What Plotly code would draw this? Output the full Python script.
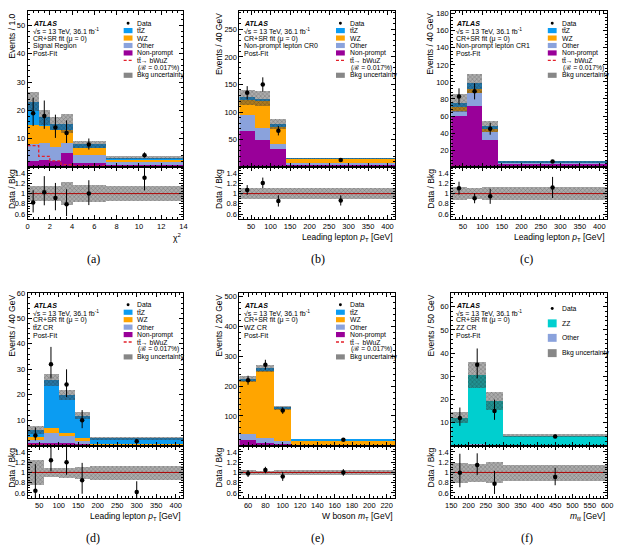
import plotly.graph_objects as go

W, H = 620, 549

# ---------------- data ----------------
# (a) Signal region, chi^2
a_edges = [0, 1, 2, 3, 4, 7, 14]
a_nonprompt = [2.2, 2.5, 2.1, 5.0, 1.5, 0.6]
a_other = [5.7, 6.0, 5.0, 3.3, 2.7, 1.0]
a_wz = [6.9, 5.8, 5.9, 4.7, 2.3, 0.8]
a_ttz = [8.2, 3.2, 2.3, 2.2, 1.5, 0.8]
a_unc = [3.3, 2.6, 2.2, 3.3, 1.3, 0.5]
a_signal = [7.6, 3.8, 2.2, 0.9, 0.4, 0.15]
a_data = [19, 18, 14, 12, 8, 4.2]
a_err_up = [5.5, 5.5, 4.5, 4.5, 2.1, 1.0]
a_err_dn = [4.5, 4.5, 3.7, 3.5, 1.8, 0.8]

# (b) Non-prompt lepton CR0
b_edges = [20, 60, 100, 140, 420]
b_nonprompt = [66, 48, 32, 5]
b_other = [28, 22, 9, 2]
b_wz = [28, 50, 33, 7.5]
b_ttz = [4, 4, 3, 0.5]
b_unc = [14, 13, 9, 1.5]
b_signal = [0.4, 0.3, 0.2, 0.05]
b_data = [135, 150, 66, 13]
b_err_up = [12, 13, 8.5, 1.5]
b_err_dn = [12, 13, 8.5, 1.5]

# (c) Non-prompt lepton CR1
c_edges = [20, 60, 100, 140, 420]
c_nonprompt = [60, 72, 31, 3.5]
c_other = [6, 15, 10, 1.2]
c_wz = [4, 4, 3, 0.5]
c_ttz = [5, 7, 3.5, 0.6]
c_unc = [10, 11, 6, 0.7]
c_signal = [0.8, 0.6, 0.3, 0.1]
c_data = [83, 89, 45, 6.5]
c_err_up = [9.5, 9.5, 7, 1.2]
c_err_dn = [9.5, 9.5, 7, 1.2]

# (d) ttZ CR
d_edges = [20, 60, 100, 140, 180, 420]
d_nonprompt = [1.0, 1.1, 1.0, 0.6, 0.2]
d_other = [1.5, 3.9, 3.0, 1.5, 0.4]
d_wz = [1.0, 1.9, 0.9, 0.9, 0.3]
d_ttz = [2.7, 19.0, 15.1, 8.8, 2.0]
d_unc = [1.55, 2.4, 2.0, 1.4, 0.4]
d_signal = [0.3, 0.2, 0.15, 0.1, 0.05]
d_data = [4, 32, 24, 10, 1.8]
d_err_up = [3.2, 6.8, 6.0, 4.0, 0.6]
d_err_dn = [1.9, 5.6, 4.9, 3.1, 0.5]

# (e) WZ CR
e_edges = [50, 70, 90, 110, 230]
e_nonprompt = [19, 11, 6, 1]
e_other = [22, 15, 11, 2]
e_wz = [179, 228, 108, 16.5]
e_ttz = [5, 6, 3, 0.5]
e_unc = [11, 11, 6, 1]
e_signal = [0.5, 0.4, 0.2, 0.05]
e_data = [220, 272, 118, 20]
e_err_up = [15, 16.5, 11, 1.3]
e_err_dn = [15, 16.5, 11, 1.3]

# (f) ZZ CR
f_edges = [150, 200, 250, 300, 600]
f_zz = [11.7, 30, 18.9, 4.2]
f_other = [0.4, 0.6, 0.4, 0.2]
f_unc = [2.4, 5.4, 3.9, 0.7]
f_data = [12, 35, 15, 4]
f_err_up = [4.5, 7.0, 4.9, 0.8]
f_err_dn = [3.4, 5.9, 3.8, 0.7]

ratio_ticks = [0.6, 0.8, 1, 1.2, 1.4]

# ---------------- style ----------------
C_TTZ = "#0b9cf2"
C_WZ = "#ffa500"
C_OT = "#8aa2dc"
C_NP = "#990099"
C_ZZ = "#00cfcf"
C_SIG = "#e3202a"
FONT = "Liberation Sans"

cols = [(22, 181), (238, 397), (454, 613)]
rows = [(7.3, 164.3, 216.7), (291, 445, 497.7)]

panels = [
    dict(edges=a_edges, comps=[("Non-prompt", a_nonprompt, C_NP), ("Other", a_other, C_OT), ("WZ", a_wz, C_WZ), ("tt̄Z", a_ttz, C_TTZ)],
         unc=a_unc, sig=a_signal, data=a_data, eu=a_err_up, ed=a_err_dn, r=0, c=0,
         yr=55, ytv=[10, 20, 30, 40, 50], ymin=2, xtv=[0, 2, 4, 6, 8, 10, 12, 14], xmin=0.5,
         ytitle="Events / 1.0", xtitle="χ<sup>2</sup>", region="Signal Region", cap="(a)"),
    dict(edges=b_edges, comps=[("Non-prompt", b_nonprompt, C_NP), ("Other", b_other, C_OT), ("WZ", b_wz, C_WZ), ("tt̄Z", b_ttz, C_TTZ)],
         unc=b_unc, sig=b_signal, data=b_data, eu=b_err_up, ed=b_err_dn, r=0, c=1,
         yr=283, ytv=[50, 100, 150, 200, 250], ymin=10, xtv=[50, 100, 150, 200, 250, 300, 350, 400], xmin=10,
         ytitle="Events / 40 GeV", xtitle="Leading lepton <i>p</i><sub>T</sub> [GeV]", region="Non-prompt lepton CR0", cap="(b)"),
    dict(edges=c_edges, comps=[("Non-prompt", c_nonprompt, C_NP), ("Other", c_other, C_OT), ("WZ", c_wz, C_WZ), ("tt̄Z", c_ttz, C_TTZ)],
         unc=c_unc, sig=c_signal, data=c_data, eu=c_err_up, ed=c_err_dn, r=0, c=2,
         yr=183, ytv=[20, 40, 60, 80, 100, 120, 140, 160, 180], ymin=4, xtv=[50, 100, 150, 200, 250, 300, 350, 400], xmin=10,
         ytitle="Events / 40 GeV", xtitle="Leading lepton <i>p</i><sub>T</sub> [GeV]", region="Non-prompt lepton CR1", cap="(c)"),
    dict(edges=d_edges, comps=[("Non-prompt", d_nonprompt, C_NP), ("Other", d_other, C_OT), ("WZ", d_wz, C_WZ), ("tt̄Z", d_ttz, C_TTZ)],
         unc=d_unc, sig=d_signal, data=d_data, eu=d_err_up, ed=d_err_dn, r=1, c=0,
         yr=60, ytv=[10, 20, 30, 40, 50, 60], ymin=2, xtv=[50, 100, 150, 200, 250, 300, 350, 400], xmin=10,
         ytitle="Events / 40 GeV", xtitle="Leading lepton <i>p</i><sub>T</sub> [GeV]", region="tt̄Z CR", cap="(d)"),
    dict(edges=e_edges, comps=[("Non-prompt", e_nonprompt, C_NP), ("Other", e_other, C_OT), ("WZ", e_wz, C_WZ), ("tt̄Z", e_ttz, C_TTZ)],
         unc=e_unc, sig=e_signal, data=e_data, eu=e_err_up, ed=e_err_dn, r=1, c=1,
         yr=513, ytv=[100, 200, 300, 400, 500], ymin=20, xtv=[60, 80, 100, 120, 140, 160, 180, 200, 220], xmin=5,
         ytitle="Events / 20 GeV", xtitle="W boson <i>m</i><sub>T</sub> [GeV]", region="WZ CR", cap="(e)"),
    dict(edges=f_edges, comps=[("Other", f_other, C_OT), ("ZZ", f_zz, C_ZZ)],
         unc=f_unc, sig=None, data=f_data, eu=f_err_up, ed=f_err_dn, r=1, c=2,
         yr=66, ytv=[10, 20, 30, 40, 50, 60], ymin=2, xtv=[150, 200, 250, 300, 350, 400, 450, 500, 550, 600], xmin=10,
         ytitle="Events / 50 GeV", xtitle="<i>m</i><sub>ℓℓ</sub> [GeV]", region="ZZ CR", cap="(f)"),
]

fig = go.Figure()
shapes = []
annots = []


def px_x(x):
    return x / W


def px_y(y):
    return 1 - y / H


def ax_name(k, a):
    return a if k == 1 else f"{a}{k}"


def lay_name(k, a):
    return f"{a}axis" if k == 1 else f"{a}axis{k}"


HATCH_BG = "rgba(70,70,70,0.45)"
hatch = dict(shape="x", fgcolor="rgba(20,20,20,0.75)", size=3, solidity=0.3, fillmode="overlay")

for i, p in enumerate(panels):
    km, kr = 2 * i + 1, 2 * i + 2
    xm, ym, xr, yrn = ax_name(km, "x"), ax_name(km, "y"), ax_name(kr, "x"), ax_name(kr, "y")
    e = p["edges"]
    n = len(e) - 1
    ctr = [(e[j] + e[j + 1]) / 2 for j in range(n)]
    wid = [e[j + 1] - e[j] for j in range(n)]
    base = [0.0] * n
    for name, vals, col in p["comps"]:
        fig.add_trace(go.Bar(x=ctr, y=vals, base=list(base), width=wid, marker=dict(color=col, line=dict(width=0)),
                             xaxis=xm, yaxis=ym, showlegend=False, name=name))
        base = [base[j] + vals[j] for j in range(n)]
    tot = base
    unc = p["unc"]
    fig.add_trace(go.Bar(x=ctr, y=[2 * u for u in unc], base=[tot[j] - unc[j] for j in range(n)], width=wid,
                         marker=dict(color=HATCH_BG, line=dict(width=0), pattern=hatch),
                         xaxis=xm, yaxis=ym, showlegend=False, name="Bkg uncertainty"))
    if p["sig"] is not None:
        s = p["sig"]
        fig.add_trace(go.Scatter(x=e, y=s + [s[-1]], mode="lines", line=dict(color=C_SIG, width=1.3, dash="3px,2px", shape="hv"),
                                 xaxis=xm, yaxis=ym, showlegend=False))
    fig.add_trace(go.Scatter(x=ctr, y=p["data"], mode="markers", marker=dict(color="black", size=4.5),
                             error_y=dict(type="data", symmetric=False, array=p["eu"], arrayminus=p["ed"], thickness=1, width=0, color="black"),
                             xaxis=xm, yaxis=ym, showlegend=False, name="Data"))
    # ratio panel
    fig.add_trace(go.Bar(x=ctr, y=[2 * unc[j] / tot[j] for j in range(n)], base=[1 - unc[j] / tot[j] for j in range(n)], width=wid,
                         marker=dict(color=HATCH_BG, line=dict(width=0), pattern=hatch),
                         xaxis=xr, yaxis=yrn, showlegend=False))
    fig.add_trace(go.Scatter(x=[e[0], e[-1]], y=[1, 1], mode="lines", line=dict(color="#b00000", width=1),
                             xaxis=xr, yaxis=yrn, showlegend=False))
    fig.add_trace(go.Scatter(x=ctr, y=[p["data"][j] / tot[j] for j in range(n)], mode="markers", marker=dict(color="black", size=4.5),
                             error_y=dict(type="data", symmetric=False, array=[p["eu"][j] / tot[j] for j in range(n)],
                                          arrayminus=[p["ed"][j] / tot[j] for j in range(n)], thickness=1, width=0, color="black"),
                             xaxis=xr, yaxis=yrn, showlegend=False))

    x0, x1 = cols[p["c"]]
    yt, ymid, yb = rows[p["r"]]
    common = dict(showline=True, linecolor="black", linewidth=1, mirror="ticks", ticks="inside", ticklen=4, tickcolor="black",
                  showgrid=False, zeroline=False, tickfont=dict(family=FONT, size=7.5, color="black"))
    fig.update_layout(**{
        lay_name(km, "x"): dict(domain=[px_x(x0), px_x(x1)], range=[e[0], e[-1]], anchor=ym, matches=xr, showticklabels=False,
                                tickvals=p["xtv"], minor=dict(ticks="inside", ticklen=2, dtick=p["xmin"], tick0=0, tickcolor="black"), **common),
        lay_name(km, "y"): dict(domain=[px_y(ymid), px_y(yt)], range=[0, p["yr"]], anchor=xm, tickvals=p["ytv"],
                                minor=dict(ticks="inside", ticklen=2, dtick=p["ymin"], tick0=0, tickcolor="black"), **common),
        lay_name(kr, "x"): dict(domain=[px_x(x0), px_x(x1)], range=[e[0], e[-1]], anchor=yrn, tickvals=p["xtv"],
                                minor=dict(ticks="inside", ticklen=2, dtick=p["xmin"], tick0=0, tickcolor="black"), **common),
        lay_name(kr, "y"): dict(domain=[px_y(yb), px_y(ymid)], range=[0.5, 1.52], anchor=xr, tickvals=ratio_ticks,
                                ticktext=["0.6", "0.8", "1", "1.2", "1.4"],
                                minor=dict(ticks="inside", ticklen=2, dtick=0.05, tick0=0, tickcolor="black"), **common),
    })

    # axis titles
    tx = x0 - 16 if p["c"] == 0 else x0 - 21
    annots.append(dict(x=px_x(tx), y=px_y(yt), xref="paper", yref="paper", text=p["ytitle"], textangle=-90, showarrow=False,
                       xanchor="center", yanchor="top", font=dict(family=FONT, size=8.5, color="black")))
    annots.append(dict(x=px_x(tx), y=px_y(ymid), xref="paper", yref="paper", text="Data / Bkg", textangle=-90, showarrow=False,
                       xanchor="center", yanchor="top", font=dict(family=FONT, size=8.5, color="black")))
    annots.append(dict(x=px_x(x1), y=px_y(yb + 19), xref="paper", yref="paper", text=p["xtitle"], showarrow=False,
                       xanchor="right", yanchor="middle", font=dict(family=FONT, size=8.5, color="black")))
    # caption
    capx = [89, 318, 531][p["c"]]
    annots.append(dict(x=px_x(capx), y=px_y(yb + 40), xref="paper", yref="paper", text=p["cap"], showarrow=False,
                       xanchor="center", yanchor="middle", font=dict(family="Liberation Serif", size=12, color="black")))
    # ATLAS label block
    lab = ["<b><i>ATLAS</i></b>", "√s = 13 TeV, 36.1 fb<sup>-1</sup>", "CR+SR fit (μ = 0)", p["region"], "Post-Fit"]
    for j, t in enumerate(lab):
        annots.append(dict(x=px_x(x0 + 3), y=px_y(yt + 12.5 + 7.6 * j), xref="paper", yref="paper", text=t, showarrow=False,
                           xanchor="left", yanchor="middle", font=dict(family=FONT, size=7, color="black")))

    # legend
    sx = x0 + 98 if p["c"] == 0 else x0 + 98.5
    txt_x = sx + 12
    lfont = dict(family=FONT, size=6.8, color="black")
    if p["sig"] is not None:
        ry = [yt + 12 + 7.5 * j for j in range(8)]
        shapes.append(dict(type="circle", xref="paper", yref="paper", x0=px_x(sx + 3), x1=px_x(sx + 6), y0=px_y(ry[0] + 1.5), y1=px_y(ry[0] - 1.5),
                           fillcolor="black", line=dict(width=0)))
        items = [("Data", None)] + [(nm, col) for nm, _, col in reversed(p["comps"])]
        for j, (nm, col) in enumerate(items):
            if col is not None:
                shapes.append(dict(type="rect", xref="paper", yref="paper", x0=px_x(sx), x1=px_x(sx + 9), y0=px_y(ry[j] + 2.6), y1=px_y(ry[j] - 2.6),
                                   fillcolor=col, line=dict(width=0)))
            annots.append(dict(x=px_x(txt_x), y=px_y(ry[j]), xref="paper", yref="paper", text=nm, showarrow=False,
                               xanchor="left", yanchor="middle", font=lfont))
        shapes.append(dict(type="line", xref="paper", yref="paper", x0=px_x(sx), x1=px_x(sx + 9), y0=px_y(ry[5]), y1=px_y(ry[5]),
                           line=dict(color=C_SIG, width=1.3, dash="3px,2px")))
        annots.append(dict(x=px_x(txt_x), y=px_y(ry[5]), xref="paper", yref="paper", text="tt̄→ bWuZ", showarrow=False,
                           xanchor="left", yanchor="middle", font=lfont))
        annots.append(dict(x=px_x(txt_x + 1), y=px_y(ry[6]), xref="paper", yref="paper", text="(ℬ = 0.017%)", showarrow=False,
                           xanchor="left", yanchor="middle", font=lfont))
        shapes.append(dict(type="rect", xref="paper", yref="paper", x0=px_x(sx), x1=px_x(sx + 9), y0=px_y(ry[7] + 2.6), y1=px_y(ry[7] - 2.6),
                           fillcolor="rgba(105,105,105,0.8)", line=dict(width=0)))
        annots.append(dict(x=px_x(txt_x), y=px_y(ry[7]), xref="paper", yref="paper", text="Bkg uncertainty", showarrow=False,
                           xanchor="left", yanchor="middle", font=lfont))
    else:
        ry = [yt + 15.7, yt + 30.7, yt + 45.3, yt + 60.7]
        shapes.append(dict(type="circle", xref="paper", yref="paper", x0=px_x(sx + 3), x1=px_x(sx + 6), y0=px_y(ry[0] + 1.5), y1=px_y(ry[0] - 1.5),
                           fillcolor="black", line=dict(width=0)))
        items = [("Data", None), ("ZZ", C_ZZ), ("Other", C_OT), ("Bkg uncertainty", "rgba(105,105,105,0.8)")]
        for j, (nm, col) in enumerate(items):
            if col is not None:
                shapes.append(dict(type="rect", xref="paper", yref="paper", x0=px_x(sx), x1=px_x(sx + 9), y0=px_y(ry[j] + 4), y1=px_y(ry[j] - 4),
                                   fillcolor=col, line=dict(width=0)))
            annots.append(dict(x=px_x(txt_x), y=px_y(ry[j]), xref="paper", yref="paper", text=nm, showarrow=False,
                               xanchor="left", yanchor="middle", font=lfont))

fig.update_layout(width=W, height=H, margin=dict(l=0, r=0, t=0, b=0), paper_bgcolor="white", plot_bgcolor="white",
                  barmode="overlay", bargap=0, showlegend=False, shapes=shapes, annotations=annots,
                  font=dict(family=FONT, color="black"))
fig.write_html("out.html")
